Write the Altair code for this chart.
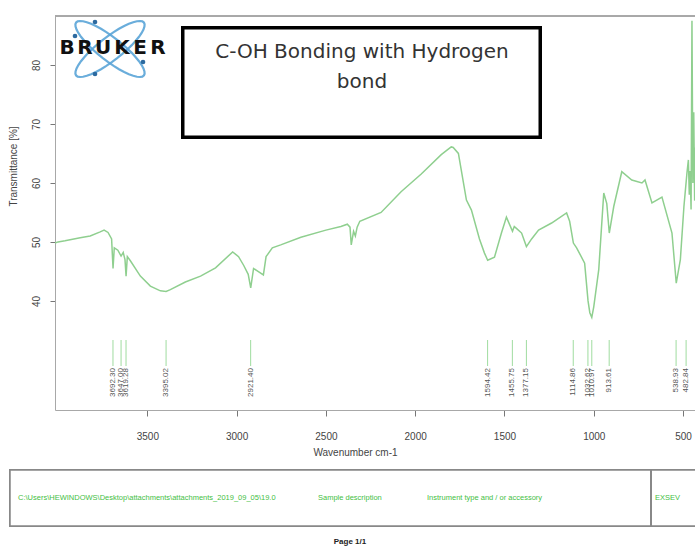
import math
import altair as alt
import pandas as pd

# IR spectrum: wavenumber (cm-1) and transmittance (%)
wavenumber = [4017, 4000, 3961, 3876, 3820, 3764, 3742, 3720, 3700, 3692, 3685, 3665,
              3647, 3635, 3625, 3619, 3612, 3595, 3539, 3483, 3427, 3395, 3371, 3287,
              3202, 3118, 3022, 2989, 2960, 2935, 2921, 2905, 2880, 2850, 2835, 2800,
              2753, 2640, 2500, 2416, 2380, 2365, 2358, 2345, 2335, 2325, 2310, 2191,
              2079, 1966, 1854, 1820, 1798, 1787, 1758, 1713, 1685, 1640, 1612, 1594,
              1556, 1517, 1489, 1465, 1455, 1445, 1433, 1404, 1377, 1348, 1309, 1236,
              1152, 1135, 1114, 1096, 1051, 1032, 1022, 1011, 1000, 972, 944, 927,
              913, 888, 843, 787, 730, 713, 674, 618, 562, 538, 515, 495, 478, 470,
              465, 460, 455, 450, 445, 440, 435, 430]
transmittance = [49.8, 50.0, 50.2, 50.7, 51.0, 51.7, 52.0, 51.6, 50.5, 45.5, 49.0, 48.6,
                 47.6, 48.2, 47.0, 44.2, 47.5, 46.8, 44.2, 42.5, 41.7, 41.6, 41.9, 43.2,
                 44.2, 45.6, 48.3, 47.5, 46.0, 44.5, 42.2, 45.5, 45.0, 44.4, 47.5, 49.0,
                 49.5, 50.8, 52.0, 52.6, 53.0, 52.5, 49.5, 51.8, 51.0, 52.5, 53.5, 55.0,
                 58.5, 61.5, 64.8, 65.6, 66.1, 66.0, 65.0, 57.1, 55.4, 50.5, 48.1, 46.9,
                 47.4, 51.5, 54.2, 52.5, 51.8, 52.6, 52.3, 51.5, 49.2, 50.5, 52.0, 53.2,
                 54.9, 53.5, 49.8, 49.0, 46.4, 40.0, 38.0, 37.2, 39.0, 45.3, 58.3, 56.5,
                 51.5, 56.0, 61.9, 60.5, 60.0, 60.5, 56.6, 57.6, 51.5, 43.0, 47.0, 56.0,
                 61.7, 63.9, 58.0, 62.0, 55.5, 87.5, 60.0, 72.0, 57.0, 66.0]

# Picked peaks
peak_positions = [3692.30, 3647.00, 3619.28, 3395.02, 2921.40, 1594.42, 1455.75,
                  1377.15, 1114.86, 1032.62, 1010.97, 913.61, 538.93, 482.84]
peak_labels = ["3692.30", "3647.00", "3619.28", "3395.02", "2921.40", "1594.42", "1455.75",
               "1377.15", "1114.86", "1032.62", "1010.97", "913.61", "538.93", "482.84"]

x_ticks = [3500, 3000, 2500, 2000, 1500, 1000, 500]
y_ticks = [40, 50, 60, 70, 80]

W, H = 640, 394
FONT = "Liberation Sans Narrow, Liberation Sans, Arial"
FRAME = "#a8a8a8"

spec = pd.DataFrame({"wn": wavenumber, "t": transmittance})
peaks = pd.DataFrame({"wn": peak_positions, "label": peak_labels})

x_scale = alt.Scale(domain=[433, 4017], reverse=True, nice=False, zero=False)
y_scale = alt.Scale(domain=[21.5, 88.3], nice=False, zero=False)

x_axis = alt.Axis(values=x_ticks, format="d", title="Wavenumber cm-1", grid=False,
                  domainColor=FRAME, tickColor="#777", tickSize=6, labelPadding=15,
                  labelFont=FONT, labelFontSize=10, labelColor="#444",
                  titleFont=FONT, titleFontSize=10, titleColor="#444", titleFontWeight="normal",
                  titleX=300, titleY=37)
y_axis = alt.Axis(values=y_ticks, title="Transmittance [%]", grid=False,
                  domainColor=FRAME, tickColor="#777", tickSize=5, labelPadding=14,
                  labelAngle=270, labelAlign="center", labelBaseline="middle",
                  labelFont=FONT, labelFontSize=10, labelColor="#444",
                  titleFont=FONT, titleFontSize=10, titleColor="#444", titleFontWeight="normal",
                  titleX=-37, titleY=150)

line = alt.Chart(spec).mark_line(color="#8fcf8f", strokeWidth=1.5, clip=True).encode(
    x=alt.X("wn:Q", scale=x_scale, axis=x_axis),
    y=alt.Y("t:Q", scale=y_scale, axis=y_axis),
)

top_border = alt.Chart(spec).mark_rule(color=FRAME, strokeWidth=1).encode(
    x=alt.value(0), x2=alt.value(W), y=alt.value(0)
)

peak_ticks = alt.Chart(peaks).mark_rule(color="#9fdc9f", strokeWidth=1).encode(
    x=alt.X("wn:Q", scale=x_scale), y=alt.value(324), y2=alt.value(350)
)
peak_text = alt.Chart(peaks).mark_text(
    angle=270, align="right", baseline="middle", font=FONT, fontSize=8, color="#555"
).encode(x=alt.X("wn:Q", scale=x_scale), y=alt.value(352), text="label:N")

# Annotation box
note_box = alt.Chart(spec).mark_rect(fill="white", stroke="black", strokeWidth=3).encode(
    x=alt.value(128), x2=alt.value(485), y=alt.value(12), y2=alt.value(121)
)
note_lines = pd.DataFrame({"txt": ["C-OH Bonding with Hydrogen", "bond"], "py": [36, 66]})
note_text = alt.Chart(note_lines).mark_text(
    font="DejaVu Sans", fontSize=20, color="#333", align="center", baseline="middle"
).encode(x=alt.value(307), y=alt.Y("py:Q", scale=None), text="txt:N")

# Logo: two crossed orbits with the company name
pts = []
for k in range(41):
    a = 2 * math.pi * k / 40
    pts.append(f"{math.cos(a):.3f} {0.27 * math.sin(a):.3f}")
orbit_path = "M " + " L ".join(pts) + " Z"
orbits = pd.DataFrame({"ang": [38, 322]})
logo_orbits = alt.Chart(orbits).mark_point(
    shape=orbit_path, filled=False, stroke="#5aa5d8", strokeWidth=2.2, size=7400, opacity=0.9
).encode(x=alt.value(55), y=alt.value(33), angle=alt.Angle("ang:Q", scale=None))
dots = pd.DataFrame({"px": [40, 40, 20, 88], "py": [6, 58, 20, 46]})
logo_dots = alt.Chart(dots).mark_point(filled=True, color="#2c6aa0", size=22, opacity=1).encode(
    x=alt.X("px:Q", scale=None), y=alt.Y("py:Q", scale=None)
)
letters = pd.DataFrame({"ch": list("BRUKER"), "px": [12, 30, 48, 67, 85, 103]})
logo_text = alt.Chart(letters).mark_text(
    font="DejaVu Sans", fontWeight="bold", fontSize=20, color="#111", baseline="middle"
).encode(x=alt.X("px:Q", scale=None), y=alt.value(32), text="ch:N")

# Report footer
footer_box = alt.Chart(spec).mark_rect(fill="white", stroke="#888", strokeWidth=1.5).encode(
    x=alt.value(-45), x2=alt.value(660), y=alt.value(454), y2=alt.value(510)
)
footer_div = alt.Chart(spec).mark_rule(color="#888", strokeWidth=1.5).encode(
    x=alt.value(596), y=alt.value(454), y2=alt.value(510)
)
footer_items = pd.DataFrame({
    "txt": ["C:\\Users\\HEWINDOWS\\Desktop\\attachments\\attachments_2019_09_05\\19.0",
            "Sample description", "Instrument type and / or accessory", "EXSEV"],
    "px": [-37, 263, 372, 600],
})
footer_text = alt.Chart(footer_items).mark_text(
    font=FONT, fontSize=7.5, color="#44c044", align="left", baseline="middle"
).encode(x=alt.X("px:Q", scale=None), y=alt.value(482), text="txt:N")
page_text = alt.Chart(pd.DataFrame({"txt": ["Page 1/1"]})).mark_text(
    font=FONT, fontSize=8, fontWeight="bold", color="#222", align="center", baseline="middle"
).encode(x=alt.value(295), y=alt.value(526), text="txt:N")

chart = alt.layer(
    top_border, line, peak_ticks, peak_text, note_box, note_text,
    logo_orbits, logo_dots, logo_text,
    footer_box, footer_div, footer_text, page_text,
).properties(
    width=W, height=H,
    autosize=alt.AutoSizeParams(type="none"),
    padding={"left": 55, "top": 16, "right": 0, "bottom": 139},
    background="white",
).configure_view(stroke=None)

chart.save("out.html", embed_options={"renderer": "svg", "actions": False})
